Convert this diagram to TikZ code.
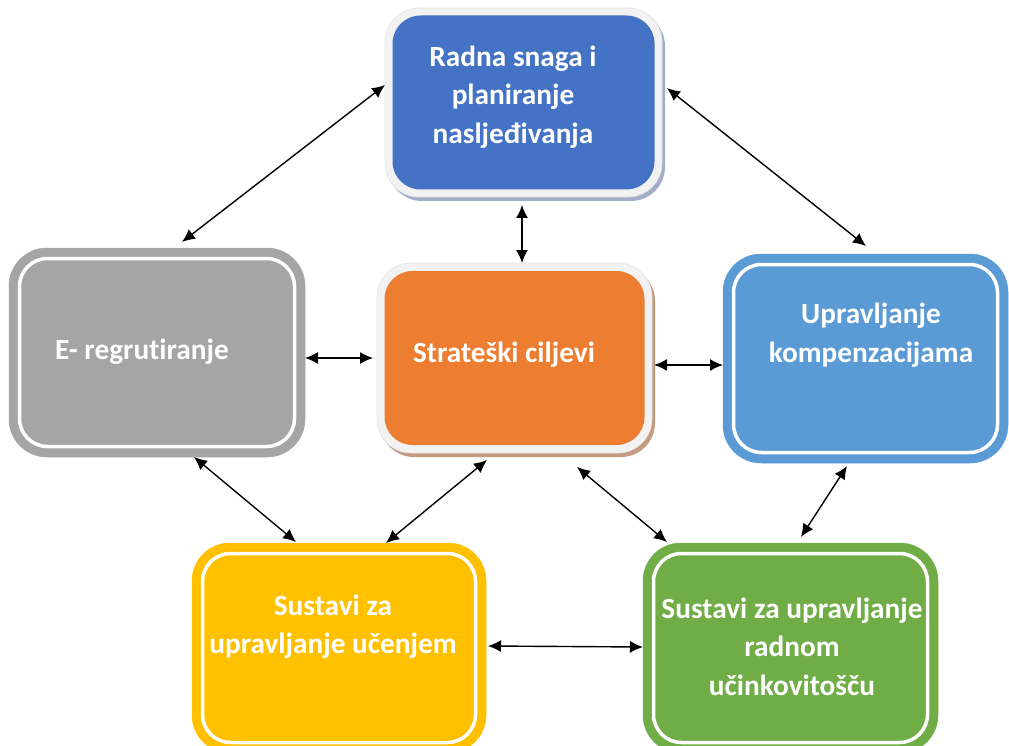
\documentclass[tikz,border=0pt]{standalone}
\usepackage{fontspec}
\setmainfont{Carlito}[Ligatures={NoCommon,NoRare,NoContextual}]
\usetikzlibrary{arrows.meta,shadows}
\definecolor{cblue}{HTML}{4472C4}
\definecolor{corange}{HTML}{ED7D31}
\definecolor{cgray}{HTML}{A5A5A5}
\definecolor{clblue}{HTML}{5B9BD5}
\definecolor{cyellow}{HTML}{FFC000}
\definecolor{cgreen}{HTML}{70AD47}
\definecolor{cframe}{HTML}{F2F2F2}
\definecolor{cframeedge}{HTML}{E4E4E4}
\definecolor{shblue}{HTML}{A3AFC9}
\definecolor{shtan}{HTML}{C49A80}
\begin{document}
\begin{tikzpicture}[x=1pt,y=-1pt,
  framebox/.style={rectangle, rounded corners=34pt, fill=cframe, draw=cframeedge, line width=0.6pt, outer sep=0pt, inner sep=0pt},
  ringbox/.style={rectangle, rounded corners=38pt, fill=#1, draw=#1, line width=0.5pt, outer sep=0pt, inner sep=0pt},
  innerline/.style={draw=white, line width=3.5pt, rounded corners=28pt},
  lbl/.style={text=white, font=\bfseries\fontsize{29.3}{38.5}\selectfont, align=center, inner sep=0pt},
  biarrow/.style={line width=1.4pt, <->, >={Latex[length=13pt,width=12pt]}}]

\useasboundingbox (0,0) rectangle (1009,746);

% top box
\node[framebox, minimum width=277pt, minimum height=189pt,
  drop shadow={shadow xshift=3pt,shadow yshift=-4pt,fill=shblue,opacity=1}] (rad) at (523.5,102.5) {};
\fill[cblue, rounded corners=28pt] ([shift={(7.5,7.5)}]rad.north west) rectangle ([shift={(-7.5,-7.5)}]rad.south east);

% centre box
\node[framebox, minimum width=275pt, minimum height=190pt,
  drop shadow={shadow xshift=3pt,shadow yshift=-4pt,fill=shtan,opacity=1}] (strat) at (514.5,358) {};
\fill[corange, rounded corners=28pt] ([shift={(7.5,8)}]strat.north west) rectangle ([shift={(-7.5,-8)}]strat.south east);

% ring boxes
\node[ringbox=cgray, minimum width=296pt, minimum height=209pt] (erec) at (157,352.5) {};
\draw[innerline] ([shift={(10.5,10.5)}]erec.north west) rectangle ([shift={(-10.5,-10.5)}]erec.south east);

\node[ringbox=clblue, minimum width=285pt, minimum height=209pt] (komp) at (865.5,358.5) {};
\draw[innerline] ([shift={(10.5,10.5)}]komp.north west) rectangle ([shift={(-10.5,-10.5)}]komp.south east);

\node[ringbox=cyellow, minimum width=294pt, minimum height=210pt] (ucen) at (339,648) {};
\draw[innerline] ([shift={(10.5,10.5)}]ucen.north west) rectangle ([shift={(-10.5,-10.5)}]ucen.south east);

\node[ringbox=cgreen, minimum width=295pt, minimum height=210pt] (rucin) at (790.5,648) {};
\draw[innerline] ([shift={(10.5,10.5)}]rucin.north west) rectangle ([shift={(-10.5,-10.5)}]rucin.south east);

% labels
\node[lbl] (radt) at (513,97) {Radna snaga i\\planiranje\\nasljeđivanja};
\node[lbl] (stratt) at (504,355) {Strateški ciljevi};
\node[lbl] (erect) at (142,351.5) {E- regrutiranje};
\node[lbl] (kompt) at (871,335) {Upravljanje\\kompenzacijama};
\node[lbl] (ucent) at (333,626.5) {Sustavi za\\upravljanje učenjem};
\node[lbl] (rucint) at (792,646.5) {Sustavi za upravljanje\\radnom\\učinkovitošču};

% connectors
\draw[biarrow] ([shift={(0,-17.5)}]rad.west) -- ([shift={(25,-6)}]erec.north);
\draw[biarrow] ([shift={(5,-14.5)}]rad.east) -- ([shift={(0.5,-8)}]komp.north);
\draw[biarrow] ([shift={(-1.5,8)}]rad.south) -- ([shift={(7.5,0)}]strat.north);
\draw[biarrow] ([shift={(0,5.5)}]erec.east) -- ([shift={(-4,0)}]strat.west);
\draw[biarrow] ([shift={(2,7)}]strat.east) -- ([shift={(0,6.5)}]komp.west);
\draw[biarrow] ([shift={(37,0)}]erec.south) -- ([shift={(-43,-1)}]ucen.north);
\draw[biarrow] ([shift={(-27.5,7)}]strat.south) -- ([shift={(47,0)}]ucen.north);
\draw[biarrow] ([shift={(62.5,14)}]strat.south) -- ([shift={(-123.5,-1)}]rucin.north);
\draw[biarrow] ([shift={(-18.5,3)}]komp.south) -- ([shift={(10.5,-6)}]rucin.north);
\draw[biarrow] ([shift={(2,-2)}]ucen.east) -- ([shift={(0,-1)}]rucin.west);
\end{tikzpicture}
\end{document}
